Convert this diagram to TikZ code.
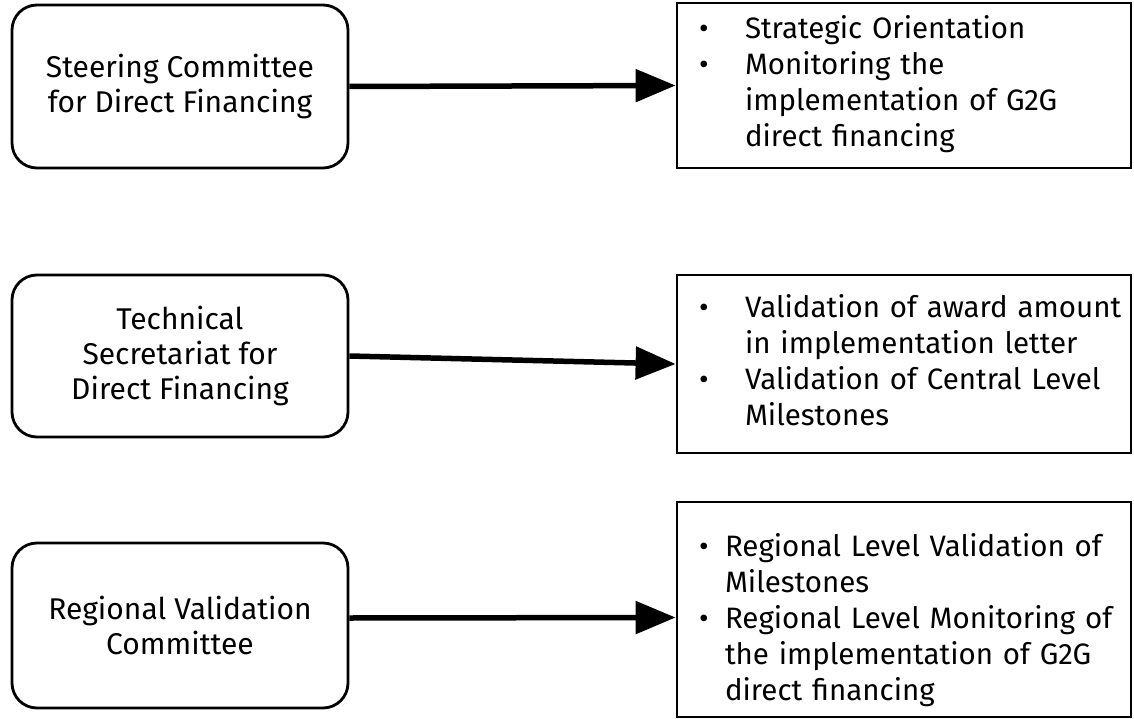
\documentclass[tikz,border=0pt]{standalone}
\usepackage{fontspec}
\setmainfont{Fira Sans}
\usetikzlibrary{arrows.meta}
\begin{document}
\begin{tikzpicture}[x=1pt,y=-1pt,
  leftbox/.style={draw, line width=2.8pt, rounded corners=25pt, minimum width=336pt,
    align=center, font=\fontsize{30}{35}\selectfont, inner sep=0pt},
  rightbox/.style={draw, line width=2.8pt, text width=410pt, inner xsep=22pt, inner ysep=0pt,
    font=\fontsize{29.5}{36}\selectfont},
  conn/.style={line width=5.5pt, -{Triangle[length=40pt,width=32pt]}}
]
\fill[white] (0,0) rectangle (1134,719);
\useasboundingbox (0,0) rectangle (1134,719);

\node[leftbox, minimum height=163pt] (s1) at (180,86.5) {Steering Committee\\for Direct Financing};
\node[leftbox, minimum height=162pt] (s2) at (180,356) {Technical\\Secretariat for\\Direct Financing};
\node[leftbox, minimum height=165pt] (s3) at (180,625.5) {Regional Validation\\Committee};

\node[rightbox, minimum height=165pt] (r1) at (904,85.5) {%
\begin{tabular}{@{}p{46pt}@{}l@{}}
\textbullet & Strategic Orientation\\
\textbullet & Monitoring the\\
 & implementation of G2G\\
 & direct financing
\end{tabular}};
\node[rightbox, minimum height=178pt] (r2) at (904,364) {%
\begin{tabular}{@{}p{46pt}@{}l@{}}
\textbullet & Validation of award amount\\
 & in implementation letter\\
\textbullet & Validation of Central Level\\
 & Milestones
\end{tabular}};
\node[rightbox, minimum height=215pt] (r3) at (904,609.5) {%
\begin{tabular}{@{}p{26pt}@{}l@{}}
 & \\[-12pt]
\textbullet & Regional Level Validation of\\
 & Milestones\\
\textbullet & Regional Level Monitoring of\\
 & the implementation of G2G\\
 & direct financing
\end{tabular}};

\draw[conn] (s1.east) -- (r1.west);
\draw[conn] (s2.east) -- (r2.west);
\draw[conn] ([yshift=7.5pt]s3.east) -- ([yshift=-8pt]r3.west);
\end{tikzpicture}
\end{document}
